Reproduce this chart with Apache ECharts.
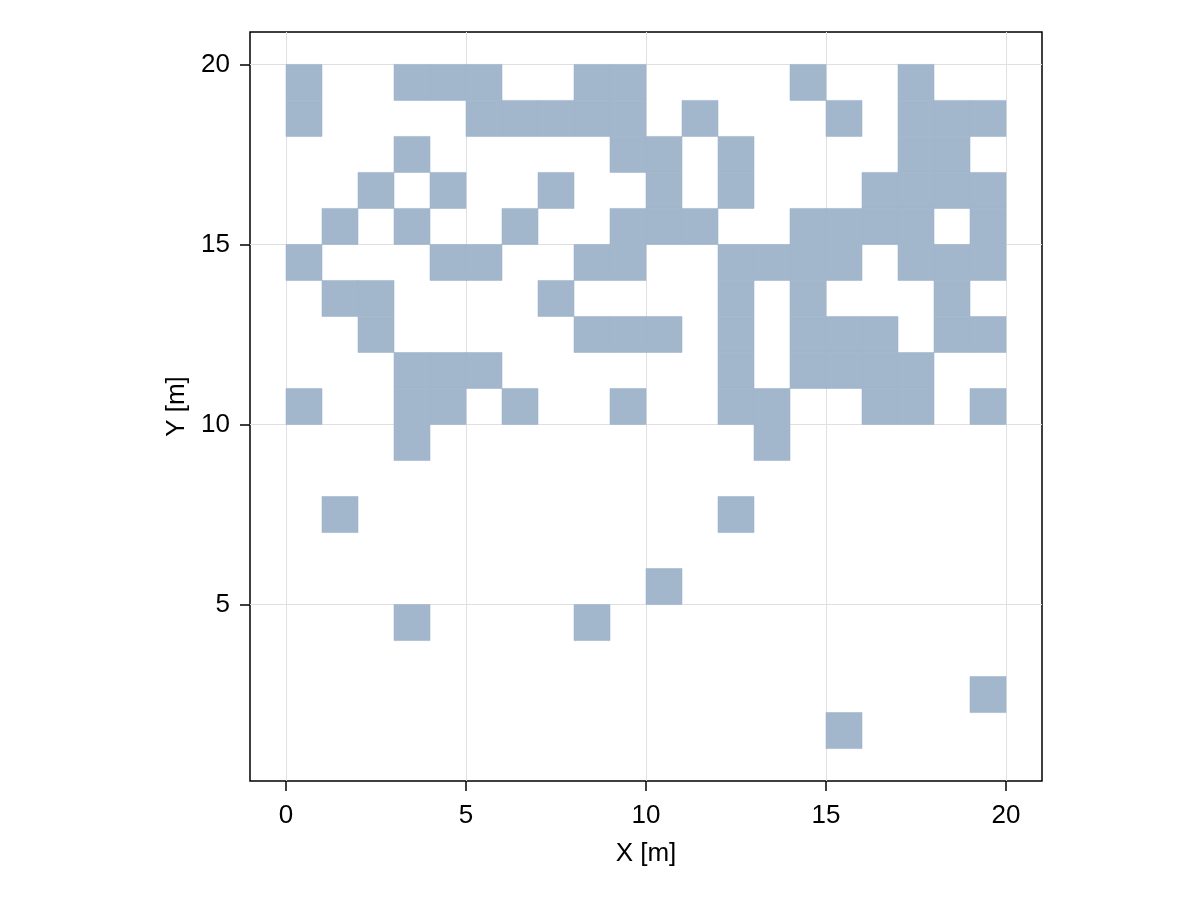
<!DOCTYPE html>
<html><head><meta charset="utf-8">
<script src="https://cdn.jsdelivr.net/npm/echarts@6/dist/echarts.min.js"></script>
<style>html,body{margin:0;background:#fff}#c{width:1200px;height:900px}</style>
</head><body><div id="c"></div>
<script>
// occupied cells: key = top y of the cell row, value = list of left x values
const rowTops = [20,19,18,17,16,15,14,13,12,11,10,8,6,5,3,2];
const rowCells = [
  [0,3,4,5,8,9,14,17],
  [0,5,6,7,8,9,11,15,17,18,19],
  [3,9,10,12,17,18],
  [2,4,7,10,12,16,17,18,19],
  [1,3,6,9,10,11,14,15,16,17,19],
  [0,4,5,8,9,12,13,14,15,17,18,19],
  [1,2,7,12,14,18],
  [2,8,9,10,12,14,15,16,18,19],
  [3,4,5,12,14,15,16,17],
  [0,3,4,6,9,12,13,16,17,19],
  [3,13],
  [1,12],
  [10],
  [3,8],
  [19],
  [15]
];
const tickVals = [0,5,10,15,20];
const data = [];
rowTops.forEach((t,i)=>rowCells[i].forEach(x=>data.push([x,t])));
const chart = echarts.init(document.getElementById('c'));
const font = 'Liberation Sans, Arial';
function ax(extra, margin){
  return Object.assign({
    type:'value', interval:5,
    axisLine:{show:false,onZero:false},
    axisTick:{show:true,inside:false,length:10,customValues:tickVals,lineStyle:{color:'#000',width:1.5}},
    axisLabel:{color:'#000',fontSize:26,fontFamily:font,margin:margin,customValues:tickVals},
    splitLine:{show:false},
    nameLocation:'middle',
    nameTextStyle:{color:'#000',fontSize:26,fontFamily:font}
  }, extra);
}
chart.setOption({
  animation:false,
  grid:{left:250,right:158,top:32,bottom:119,show:true,borderColor:'#000',borderWidth:1.5,backgroundColor:'#fff'},
  xAxis:ax({min:-1,max:21,name:'X [m]',nameGap:60}, 22),
  yAxis:ax({min:0.1,max:20.9,name:'Y [m]',nameGap:59}, 20),
  series:[
    {type:'line',data:[],z:1,markLine:{silent:true,symbol:'none',label:{show:false},z:1,
      lineStyle:{color:'#e0e0e0',type:'solid',width:1},
      data:tickVals.map(v=>({xAxis:v})).concat(tickVals.map(v=>({yAxis:v})))}},
    {type:'custom',data:data,z:5,
    renderItem:(params,api)=>{
      const x=api.value(0), t=api.value(1);
      const p1=api.coord([x,t]), p2=api.coord([x+1,t-1]);
      return {type:'rect',z2:10,shape:{x:p1[0],y:p1[1],width:p2[0]-p1[0],height:p2[1]-p1[1]},
        style:{fill:'#a2b6cc',stroke:'#a2b6cc',lineWidth:0.6}};
    }}
  ]
});
</script></body></html>
